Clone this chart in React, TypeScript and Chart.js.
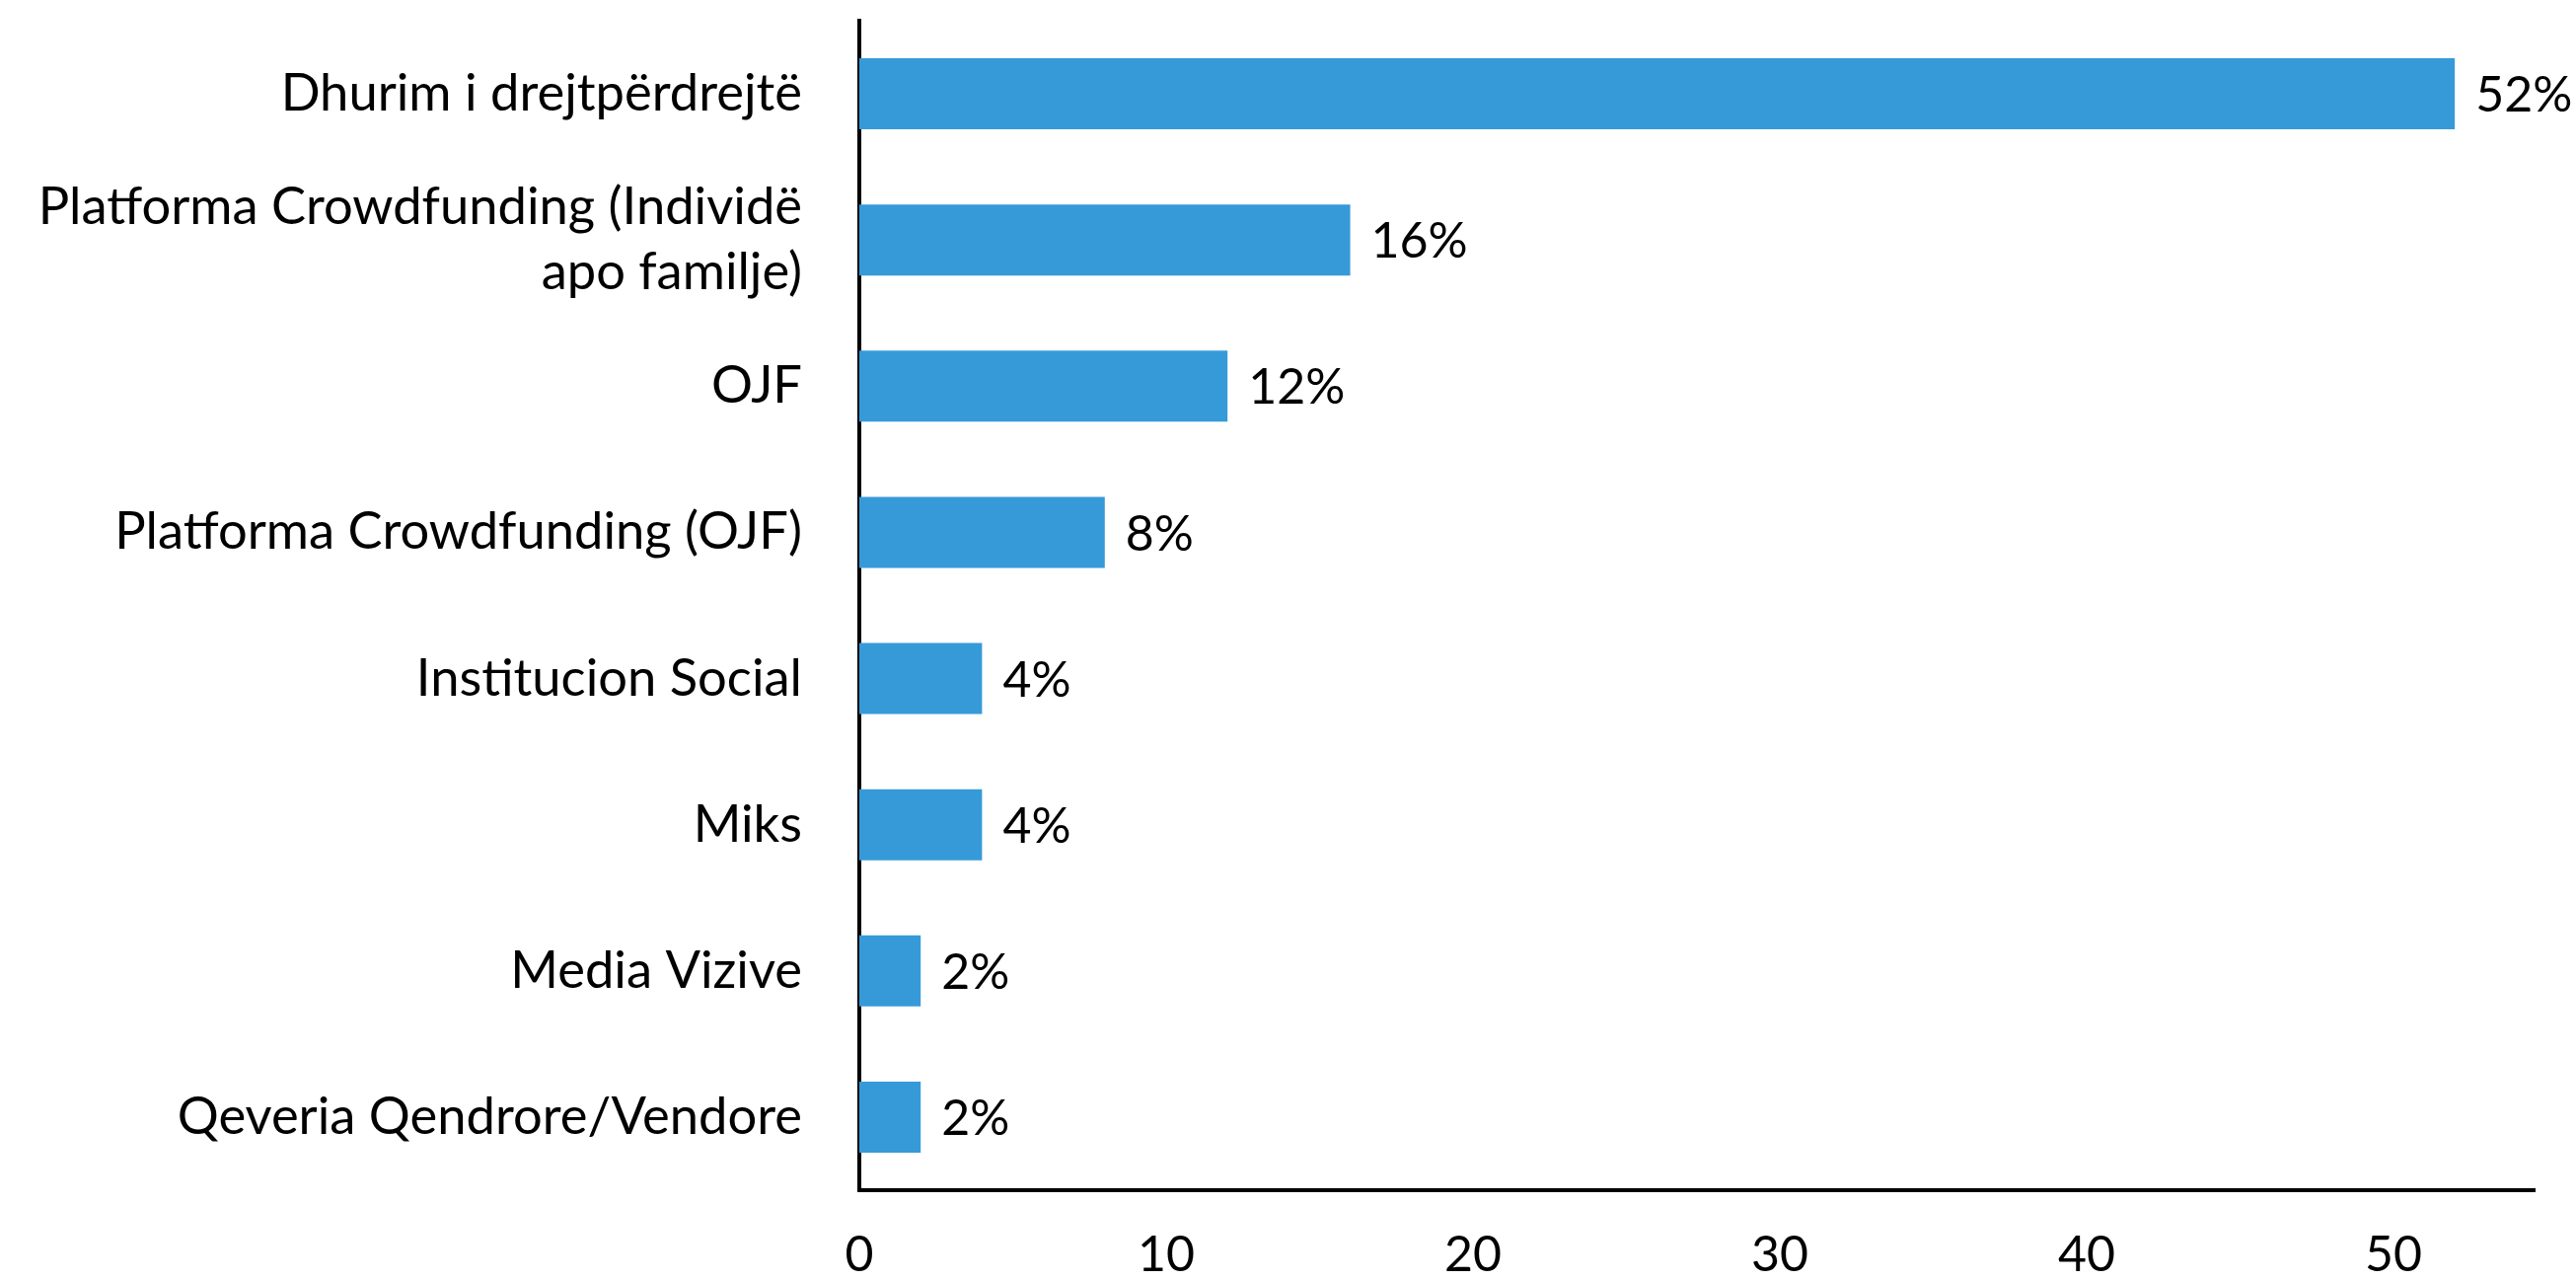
import React, { useEffect, useRef } from "react";
import { Chart, registerables } from "chart.js";

Chart.register(...registerables);

const categories: (string | string[])[] = [
  "Dhurim i drejtpërdrejtë",
  ["Platforma Crowdfunding (Individë", "apo familje)"],
  "OJF",
  "Platforma Crowdfunding (OJF)",
  "Institucion Social",
  "Miks",
  "Media Vizive",
  "Qeveria Qendrore/Vendore",
];
const values: number[] = [52, 16, 12, 8, 4, 4, 2, 2];
const valueLabels: string[] = ["52%", "16%", "12%", "8%", "4%", "4%", "2%", "2%"];
const xTicks: number[] = [0, 10, 20, 30, 40, 50];
const xMax = 54.6;

const FONT = "Lato, 'Noto Sans', sans-serif";

const valueLabelPlugin = {
  id: "valueLabels",
  afterDatasetsDraw(chart: any) {
    const ctx = chart.ctx;
    const meta = chart.getDatasetMeta(0);
    ctx.save();
    ctx.font = `50px ${FONT}`;
    ctx.fillStyle = "#000";
    ctx.textAlign = "left";
    ctx.textBaseline = "middle";
    meta.data.forEach((bar: any, i: number) => {
      ctx.fillText(valueLabels[i], bar.x + 21, bar.y + 2);
    });
    ctx.restore();
  },
};

export default function App() {
  const ref = useRef<HTMLCanvasElement | null>(null);
  useEffect(() => {
    if (!ref.current) return;
    const chart = new Chart(ref.current, {
      type: "bar",
      data: {
        labels: categories as any,
        datasets: [
          {
            data: values,
            backgroundColor: "#369ad9",
            borderWidth: 0,
            categoryPercentage: 1,
            barPercentage: 0.486,
          },
        ],
      },
      options: {
        indexAxis: "y",
        responsive: false,
        animation: false,
        maintainAspectRatio: false,
        layout: { padding: { top: 21, right: 42, bottom: 0, left: 0 } },
        plugins: { legend: { display: false }, tooltip: { enabled: false } },
        scales: {
          x: {
            min: 0,
            max: xMax,
            grid: { display: false, drawTicks: false },
            border: { display: true, color: "#000", width: 4 },
            afterBuildTicks: (scale: any) => {
              scale.ticks = xTicks.map((v) => ({ value: v }));
            },
            ticks: {
              color: "#000",
              font: { family: FONT, size: 50 },
              padding: 36,
            },
            afterFit: (scale: any) => {
              scale.height = 91;
              scale.paddingLeft = 0;
              scale.paddingRight = 0;
            },
          },
          y: {
            grid: { display: false, drawTicks: false },
            border: { display: true, color: "#000", width: 4 },
            ticks: {
              color: "#000",
              font: { family: FONT, size: 52.5, lineHeight: 1.25 },
              padding: 58,
            },
            afterFit: (scale: any) => {
              scale.width = 871;
              scale.paddingTop = 0;
              scale.paddingBottom = 0;
            },
          },
        },
      },
      plugins: [valueLabelPlugin],
    });
    return () => chart.destroy();
  }, []);
  return (
    <div style={{ position: "absolute", left: 0, top: 0, width: 2611, height: 1297 }}>
      <canvas ref={ref} width={2611} height={1297} style={{ display: "block" }} />
    </div>
  );
}
